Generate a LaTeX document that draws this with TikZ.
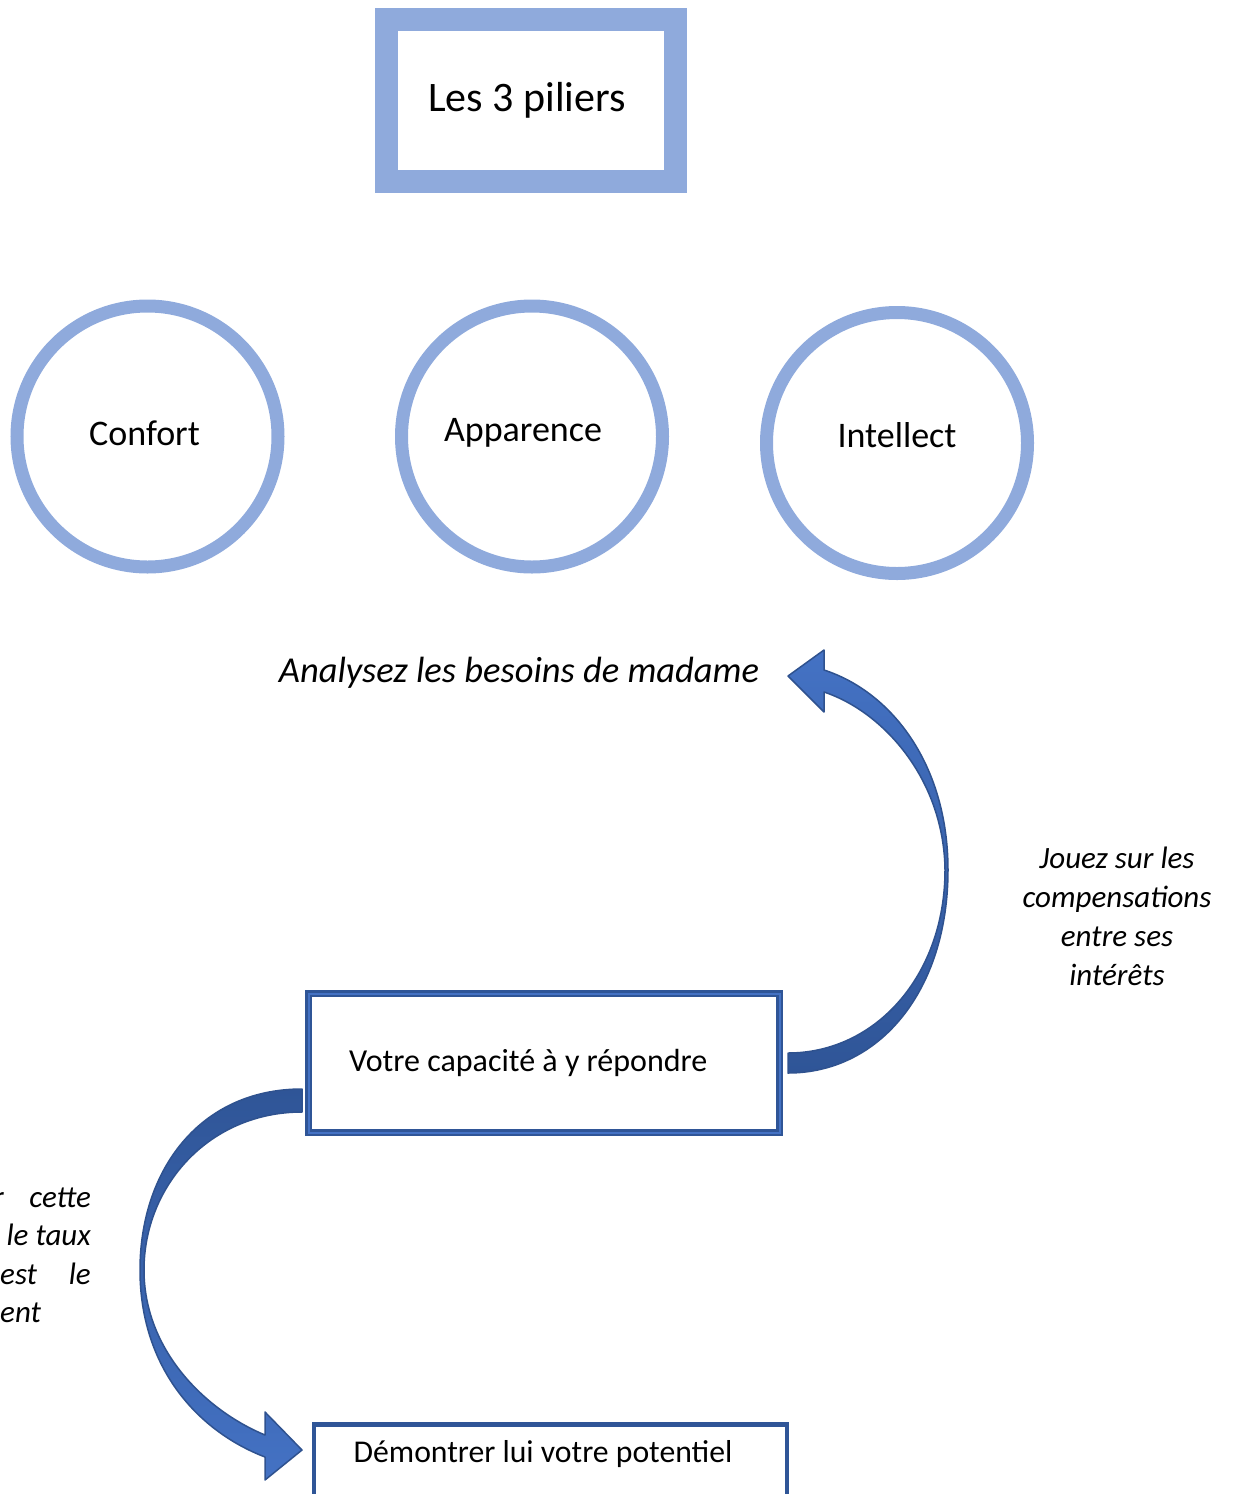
\documentclass[tikz,border=0pt]{standalone}
\usepackage{fontspec}
\setmainfont{Carlito}
\usetikzlibrary{positioning}
\definecolor{pilier}{HTML}{8FAADC}
\definecolor{fonce}{HTML}{2F5597}
\definecolor{moyen}{HTML}{4472C4}
\definecolor{bord}{HTML}{2F528F}

\begin{document}
\begin{tikzpicture}[x=1pt,y=-1pt,
  titre/.style={rectangle,draw=pilier,line width=23pt,minimum width=289pt,minimum height=162pt,font=\fontsize{42}{50}\selectfont},
  pilier/.style n args={3}{circle,draw=pilier,line width=13pt,minimum size=261pt,inner sep=0pt,
    label={[font=\fontsize{36}{43}\selectfont,xshift=#2,yshift=#3]center:#1}},
  etape/.style={rectangle,draw=fonce,font=\fontsize{32}{38}\selectfont},
  remarque/.style={inner sep=0pt,align=center,font=\fontsize{31}{39}\selectfont\itshape},
  fleche/.style={draw=bord,line width=1.5pt,line join=round}]
 \useasboundingbox (0,0) rectangle (1232,1494);
 \node[titre] (titre) at (531,100.5) {\hspace*{-8pt}Les 3 piliers};
 \node[pilier={Confort}{-3pt}{3pt}] (confort) at (147.5,436.5) {};
 \node[pilier={Apparence}{-9pt}{4pt}] (apparence) at (532,436.5) {};
 \node[pilier={Intellect}{0pt}{8pt}] (intellect) at (897,443) {};
 \node[remarque,font=\fontsize{36.5}{44}\selectfont\itshape] (besoins) at (519,673) {Analysez les besoins de madame};
 \node[etape,line width=2.5pt,double=moyen,double distance=2pt,minimum width=471pt,minimum height=139pt,
   text width=390pt,align=flush left] (capacite) at (544,1063) {Votre capacité à y répondre};
 \node[etape,line width=4.5pt,anchor=north,minimum width=473pt,minimum height=150pt] (potentiel) at (550.5,1422) {};
 \node[font=\fontsize{31.7}{38}\selectfont] (demontrer) at (543,1454) {Démontrer lui votre potentiel};
 \node[remarque] (jouez) at (1117,916) {Jouez sur les\\compensations\\entre ses\\intérêts};
 % texte de gauche, coupe par le bord
 \node[remarque,anchor=base east] (r) at (4,1207) {r};
 \node[remarque,anchor=base east] (cette) at (91,1207) {cette};
 \node[remarque,anchor=base east] (taux) at (91,1245) {le taux};
 \node[remarque,anchor=base west] (est) at (0,1284) {est};
 \node[remarque,anchor=base east] (le) at (91,1284) {le};
 \node[remarque,anchor=base west] (ent) at (0,1322) {ent};
 % fleches courbes
 \shadedraw[fleche,top color=moyen,bottom color=fonce]
   (788,1073) .. controls (880,1073) and (948,990) .. (948,870)
   .. controls (948,765) and (892,692) .. (824,670) -- (824,650) -- (788,676) -- (824,712) -- (824,692)
   .. controls (884,712) and (944,780) .. (945,870)
   .. controls (945,975) and (876,1053) .. (788,1053) -- cycle;
 \shadedraw[fleche,top color=fonce,bottom color=moyen]
   (302,1089) .. controls (200,1089) and (140,1170) .. (140,1270)
   .. controls (140,1365) and (195,1430) .. (265,1457) -- (265,1480) -- (302,1450) -- (265,1412) -- (265,1435)
   .. controls (205,1410) and (144,1350) .. (144,1270)
   .. controls (144,1185) and (210,1112) .. (302,1112) -- cycle;
\end{tikzpicture}
\end{document}
